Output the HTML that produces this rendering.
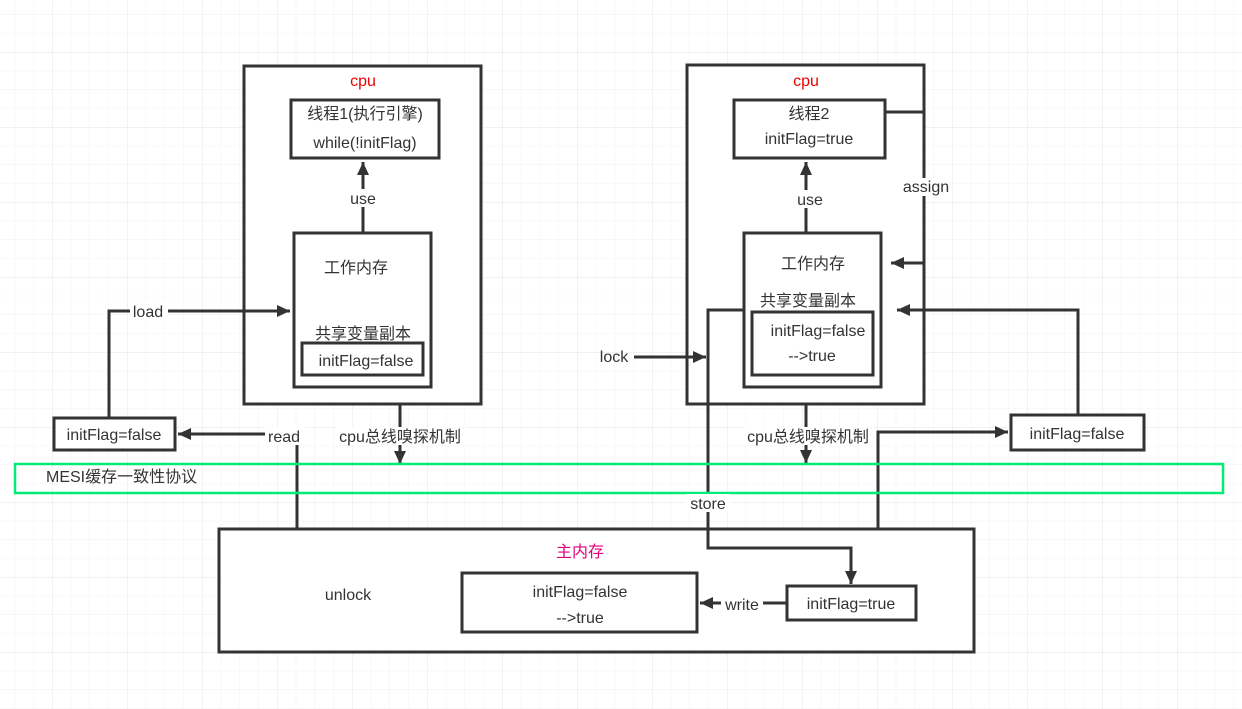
<!DOCTYPE html>
<html><head><meta charset="utf-8"><style>
html,body{margin:0;padding:0;background:#fff;}
svg{display:block;}
text{font-family:"Liberation Sans","Noto Sans CJK SC",sans-serif;font-size:16px;fill:#333;}
</style></head><body>
<svg width="1242" height="709" viewBox="0 0 1242 709" xmlns="http://www.w3.org/2000/svg">
<defs>
<pattern id="minor" x="-4.25" y="-4.25" width="18.75" height="18.75" patternUnits="userSpaceOnUse">
<path d="M0 0H18.75M0 0V18.75" stroke="#f2f2f2" stroke-width="1" fill="none"/>
</pattern>
<pattern id="major" x="-23" y="-23" width="75" height="75" patternUnits="userSpaceOnUse">
<path d="M0 0H75M0 0V75" stroke="#e4e4e4" stroke-width="1" fill="none"/>
</pattern>
<marker id="ah" markerWidth="14" markerHeight="14" refX="13" refY="6" orient="auto" markerUnits="userSpaceOnUse">
<path d="M0 0L13 6L0 12z" fill="#333"/>
</marker>
</defs>
<rect width="1242" height="709" fill="url(#minor)"/>
<rect width="1242" height="709" fill="url(#major)"/>
<g stroke="#333" stroke-width="3" fill="none">
<rect x="244" y="66" width="237" height="338" fill="#fff"/>
<rect x="291" y="100" width="148" height="58" fill="#fff"/>
<rect x="294" y="233" width="137" height="154" fill="#fff"/>
<rect x="302" y="343" width="121" height="32"/>
<line x1="363" y1="232" x2="363" y2="162" marker-end="url(#ah)"/>
<polyline points="109,418 109,311 290,311" marker-end="url(#ah)"/>
<rect x="54" y="418" width="121" height="32" fill="#fff"/>
<polyline points="297,529 297,434 178,434" marker-end="url(#ah)"/>
<line x1="400" y1="404" x2="400" y2="464" marker-end="url(#ah)"/>
<rect x="687" y="65" width="237" height="339" fill="#fff"/>
<rect x="734" y="100" width="151" height="58" fill="#fff"/>
<line x1="806" y1="232" x2="806" y2="162" marker-end="url(#ah)"/>
<polyline points="885,112 924,112 924,263 891,263" marker-end="url(#ah)"/>
<rect x="744" y="233" width="137" height="154" fill="#fff"/>
<rect x="752" y="312" width="121" height="63"/>
<line x1="634" y1="357" x2="706" y2="357" marker-end="url(#ah)"/>
<line x1="806" y1="404" x2="806" y2="463" marker-end="url(#ah)"/>
<rect x="1011" y="415" width="133" height="35" fill="#fff"/>
<polyline points="1078,415 1078,310 897,310" marker-end="url(#ah)"/>
<rect x="219" y="529" width="755" height="123" fill="#fff"/>
<rect x="462" y="573" width="235" height="59"/>
<rect x="787" y="586" width="129" height="34"/>
<line x1="787" y1="603" x2="700" y2="603" marker-end="url(#ah)"/>
<polyline points="878,529 878,432 1008,432" marker-end="url(#ah)"/>
<polyline points="744,310 708,310 708,548 851,548 851,584" marker-end="url(#ah)"/>
</g>
<rect x="15" y="464" width="1208" height="29" fill="none" stroke="#00ee77" stroke-width="2.5"/>
<g fill="#fff">
<rect x="130" y="302" width="38" height="18"/>
<rect x="265" y="427" width="40" height="18"/>
<rect x="336" y="427" width="130" height="18"/>
<rect x="346" y="189" width="34" height="18"/>
<rect x="794" y="190" width="32" height="18"/>
<rect x="900" y="178" width="52" height="18"/>
<rect x="744" y="427" width="130" height="18"/>
<rect x="686" y="494" width="44" height="18"/>
<rect x="721" y="595" width="42" height="18"/>
</g>
<g text-anchor="middle">
<text x="363" y="86" style="fill:#e00">cpu</text>
<text x="806" y="86" style="fill:#e00">cpu</text>
<text x="365" y="119">线程1(执行引擎)</text>
<text x="365" y="148">while(!initFlag)</text>
<text x="363" y="204">use</text>
<text x="356" y="273">工作内存</text>
<text x="363" y="339">共享变量副本</text>
<text x="366" y="366">initFlag=false</text>
<text x="148" y="317">load</text>
<text x="114" y="440">initFlag=false</text>
<text x="284" y="442">read</text>
<text x="400" y="442">cpu总线嗅探机制</text>
<text x="809" y="119">线程2</text>
<text x="809" y="144">initFlag=true</text>
<text x="810" y="205">use</text>
<text x="926" y="192">assign</text>
<text x="813" y="269">工作内存</text>
<text x="808" y="306">共享变量副本</text>
<text x="818" y="336">initFlag=false</text>
<text x="812" y="361">-->true</text>
<text x="614" y="362">lock</text>
<text x="808" y="442">cpu总线嗅探机制</text>
<text x="1077" y="439">initFlag=false</text>
<text x="708" y="509">store</text>
<text x="580" y="557" style="fill:#e0007a">主内存</text>
<text x="348" y="600">unlock</text>
<text x="580" y="597">initFlag=false</text>
<text x="580" y="623">-->true</text>
<text x="742" y="610">write</text>
<text x="851" y="609">initFlag=true</text>
</g>
<text x="46" y="482">MESI缓存一致性协议</text>
</svg>
</body></html>
